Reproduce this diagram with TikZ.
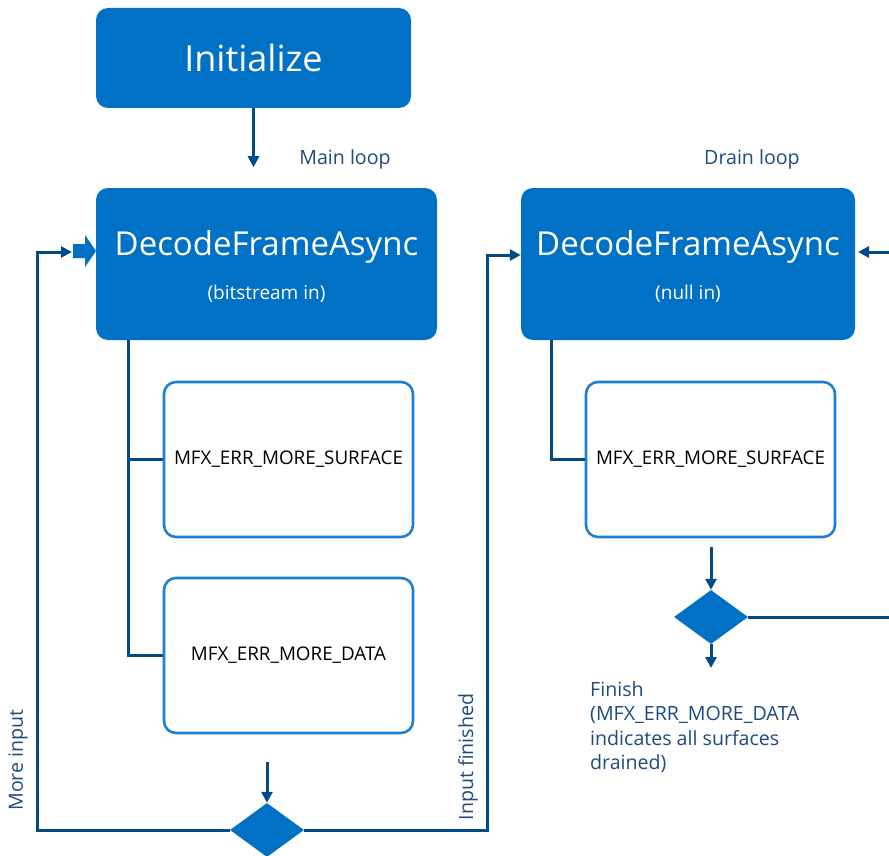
\documentclass[tikz,border=0pt]{standalone}
\usepackage{fontspec}
\setmainfont{Open Sans}
\usetikzlibrary{arrows.meta,shapes.geometric}
\definecolor{ifill}{HTML}{0071C5}
\definecolor{iedge}{HTML}{1E80D2}
\definecolor{iline}{HTML}{004A86}
\definecolor{itext}{HTML}{1F4A7E}
\begin{document}
\begin{tikzpicture}[x=1pt, y=-1pt,
    callbox/.style={fill=ifill, rounded corners=12pt, inner sep=0pt},
    codebox/.style={draw=iedge, line width=2.6pt, fill=white, rounded corners=12pt,
        minimum width=249pt, minimum height=155pt, font=\fontsize{18.8}{22}\selectfont},
    decide/.style={diamond, fill=ifill, inner sep=0pt, minimum width=74pt, minimum height=54pt},
    wire/.style={iline, line width=3pt},
    arr/.style={wire, -{Triangle[width=11pt,length=11pt]}},
    note/.style={text=itext, font=\fontsize{19.6}{24.5}\selectfont, inner sep=0pt}]
\useasboundingbox (0,0) rectangle (889,856);

% calls
\node[callbox, minimum width=315pt, minimum height=100pt] (init) at (253.5,58)
    {\color{white}\fontsize{36}{40}\selectfont Initialize};
\foreach \n\cx\w\sub in {dec1/266.5/341/(bitstream in), dec2/688/334/(null in)} {
    \node[callbox, minimum width=\w pt, minimum height=152pt] (\n) at (\cx,264) {};
    \node[text=white, font=\fontsize{33}{36}\selectfont] (\n t) at ([yshift=17pt]\n.center) {DecodeFrameAsync};
    \node[text=white, font=\fontsize{19}{22}\selectfont] (\n s) at ([yshift=-30pt]\n.center) {\sub};
}
\node[note] (mainl) at (345,159) {Main loop};
\node[note] (drainl) at (752,159) {Drain loop};

% return codes
\node[codebox] (surf1) at (288.5,459.5) {MFX\_ERR\_MORE\_SURFACE};
\node[codebox] (data1) at (288.5,655.5) {MFX\_ERR\_MORE\_DATA};
\node[codebox] (surf2) at (710.5,459.5) {MFX\_ERR\_MORE\_SURFACE};

% decisions
\node[decide] (dia1) at (267,830) {};
\node[decide] (dia2) at (711,617) {};

\coordinate (j1) at (128,0);
\coordinate (j2) at (551,0);
\coordinate (ml) at (37,252);
\coordinate (mr) at (487,255);
\coordinate (in1) at (267,762);
\coordinate (in2) at (711,547);
\coordinate (out2) at (711,668);
\coordinate (re) at (889,617);
\coordinate (rs) at (889,252);
\coordinate (rt) at (858,252);

\draw[arr] (init.south) -- ++(0,59);
\draw[wire] (dec1.south -| j1) |- (surf1.west);
\draw[wire] (dec1.south -| j1) |- (data1.west);
\draw[wire] (dec2.south -| j2) |- (surf2.west);
\draw[arr] (in1) -- (dia1.north);
\draw[arr] (in2) -- (dia2.north);
\draw[arr] (dia2.south) -- (out2);
\draw[wire] (dia2.east) -- (re);
\draw[arr] (rs) -- (rt);

% loops back
\fill[ifill] (73,244) -- (85,244) -- (85,235) -- (96,251) -- (85,267) -- (85,258) -- (73,258) -- cycle;
\coordinate (blk) at (72,252);
\draw[arr, rounded corners=0pt] (dia1.west) -| (ml) -- (blk);
\draw[arr] (dia1.east) -| (mr) -- (dec2.west |- mr);
\node[note, rotate=90] (more) at (18,760) {More input};
\node[note, rotate=90] (fin) at (468,757) {Input finished};

\node[note, anchor=north west, align=left] (finish) at (590,681)
    {Finish\\(MFX\_ERR\_MORE\_DATA\\indicates all surfaces\\drained)};
\end{tikzpicture}
\end{document}
